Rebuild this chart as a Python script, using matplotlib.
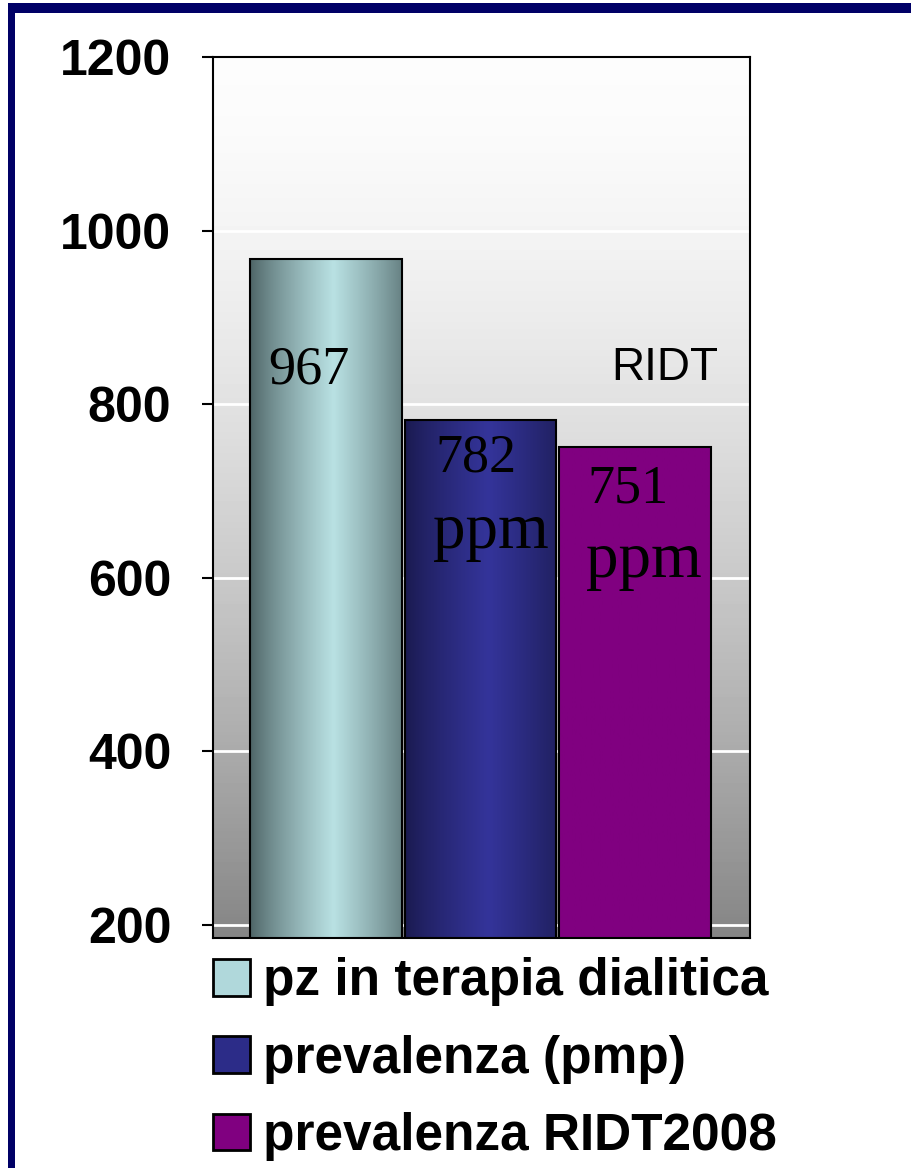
#!/usr/bin/env python3

import numpy as np
import matplotlib
matplotlib.use("Agg")
import matplotlib.pyplot as plt
from matplotlib.patches import Rectangle, Patch
from matplotlib.colors import LinearSegmentedColormap

# Data
series = ["pz in terapia dialitica", "prevalenza (pmp)", "prevalenza RIDT2008"]
values = [967, 782, 751]
numbers = ["967", "782", "751"]
units = ["", "ppm", "ppm"]
y_ticks = [200, 400, 600, 800, 1000, 1200]

# Look of each bar: (edge colour, centre colour) for the cylinder shading
shades = [("#4c6264", "#b9e1e3"), ("#1a1a4e", "#34349a"), ("#800080", "#800080")]
legend_colors = ["#b0d8db", "#2c2c88", "#800080"]

# Where the labels sit inside the bars (fraction of bar width, baselines in data units)
label_dx = [0.12, 0.20, 0.185]
number_base = [824, 722, 687]
unit_base = [None, 634, 601]

plt.rcParams["font.family"] = ["Liberation Sans", "DejaVu Sans"]

fig = plt.figure(figsize=(9.11, 11.68), dpi=100)
fig.patch.set_facecolor("white")

# Navy frame on top and left
navy = "#000066"
fig.patches.append(Rectangle((8 / 911, 0), 7 / 911, 1 - 3 / 1168, transform=fig.transFigure,
                             facecolor=navy, edgecolor="none"))
fig.patches.append(Rectangle((8 / 911, 1 - 13 / 1168), 1, 10 / 1168, transform=fig.transFigure,
                             facecolor=navy, edgecolor="none"))

ax = fig.add_axes([213 / 911, 1 - 938 / 1168, 537 / 911, 881 / 1168])
ax.set_xlim(-0.73, 2.745)
ax.set_ylim(185, 1200)
y_low = ax.get_ylim()[0]

# Grey gradient wall behind the bars, light at top and darker lower down
tt = np.linspace(1, 0, 256)
wall = 0.99 - 0.47 * tt ** 1.6
ax.imshow(wall.reshape(-1, 1), cmap="gray", vmin=0, vmax=1, aspect="auto", origin="lower",
          extent=[0, 1, 0, 1], transform=ax.transAxes, zorder=0)

x = np.arange(len(values))
bars = ax.bar(x, values, width=0.98, bottom=0, color="none", edgecolor="black",
              linewidth=1.5, zorder=3)

# Cylinder shading inside each bar, clipped to the bar
t = np.linspace(0, 1, 200)
profile = np.clip(1 - np.abs(t - 0.55) / 0.55, 0, 1) ** 0.8
for bar, (dark, light) in zip(bars, shades):
    cmap = LinearSegmentedColormap.from_list("c", [dark, light])
    im = ax.imshow(profile.reshape(1, -1), cmap=cmap, vmin=0, vmax=1, aspect="auto",
                   extent=[bar.get_x(), bar.get_x() + bar.get_width(), y_low, bar.get_height()],
                   zorder=2)
    im.set_clip_path(bar)

for bar, num, unit, dx, nb, ub in zip(bars, numbers, units, label_dx, number_base, unit_base):
    lx = bar.get_x() + dx * bar.get_width()
    ax.text(lx, nb, num, ha="left", va="baseline", family="Liberation Serif",
            fontsize=39, zorder=4)
    if unit:
        ax.text(lx - 0.01, ub, unit, ha="left", va="baseline", family="Liberation Serif",
                fontsize=47, zorder=4)

ax.text(0.94, 0.647, "RIDT", transform=ax.transAxes, ha="right", va="center",
        fontsize=33, zorder=4)

ax.set_yticks(y_ticks)
ax.set_yticklabels([str(v) for v in y_ticks], fontsize=36, fontweight="bold")
ax.set_xticks([])
ax.tick_params(axis="y", length=8, width=1.5, pad=22)
ax.yaxis.grid(True, color="white", linewidth=2)
ax.set_axisbelow(True)
for s in ax.spines.values():
    s.set_linewidth(1.5)

handles = [Patch(facecolor=c, edgecolor="black", linewidth=2) for c in legend_colors]
ax.legend(handles, series, loc="upper left", bbox_to_anchor=(0, -0.022),
          frameon=False, borderaxespad=0, borderpad=0, handlelength=0.72,
          handleheight=0.72, handletextpad=0.25, labelspacing=0.55,
          prop={"size": 37, "weight": "bold"})

fig.savefig("out.png", dpi=100)
